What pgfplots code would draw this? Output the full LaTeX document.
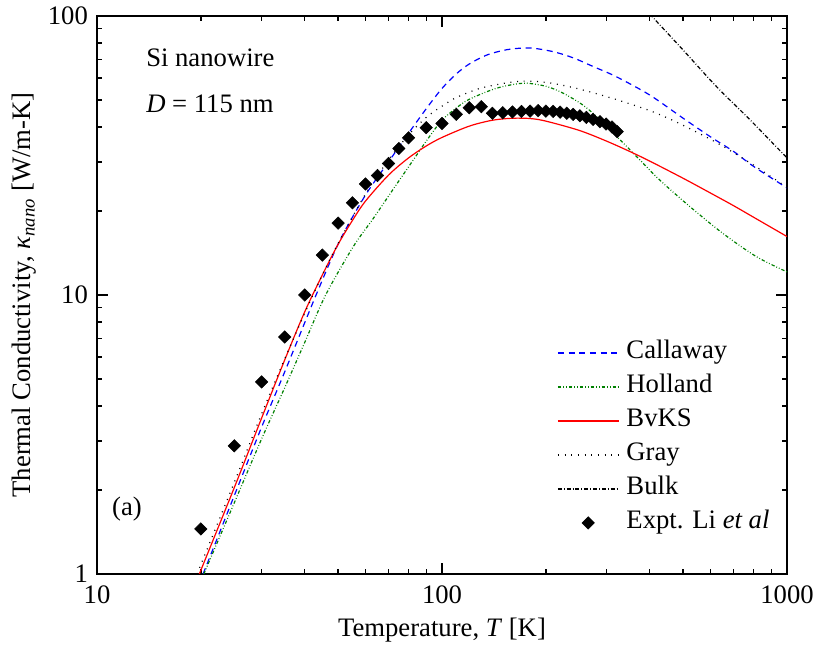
\documentclass[border=0pt]{standalone}
\usepackage{fontspec}
\setmainfont{Liberation Serif}
\usepackage{pgfplots}
\pgfplotsset{compat=1.18}
\pgfplotsset{
  lineleg/.style={legend image code/.code={\draw[##1] (0pt,0pt) -- (45.5pt,0pt);}},
  markleg/.style={legend image code/.code={\path[##1] plot coordinates {(22.75pt,0pt)};}},
}
\definecolor{cblue}{RGB}{0,0,255}
\definecolor{cgreen}{RGB}{0,128,0}
\definecolor{cred}{RGB}{255,0,0}
\begin{document}
\fontsize{20pt}{24pt}\selectfont
\begin{tikzpicture}
\useasboundingbox (-72.75pt,-53.25pt) rectangle (538.5pt,430.5pt);
\begin{axis}[
  at={(0pt,0pt)}, anchor=south west, scale only axis,
  width=517.5pt, height=418.5pt,
  xmode=log, ymode=log,
  xmin=10, xmax=1000, ymin=1, ymax=100,
  xtick={10,100,1000}, xticklabels={10,100,1000},
  ytick={1,10,100}, yticklabels={1,10,100},
  axis line style={line width=1.5pt},
  major tick length=8pt, minor tick length=4pt,
  tick style={line width=1pt, black},
  tick align=inside,
  font=\fontsize{20pt}{24pt}\selectfont,
  xticklabel style={yshift=-2pt},
  xlabel={Temperature, \textit{T} [K]},
  ylabel={Thermal Conductivity, \textit{κ}\textsubscript{\textit{nano}} [W/m-K]},
  xlabel style={at={(axis description cs:0.5,-0.1004)}, anchor=center},
  ylabel style={at={(axis description cs:-0.1058,0.5)}, anchor=center},
  legend style={draw=none, fill=none, inner sep=0pt,
    at={(axis description cs:0.6667,0.417)}, anchor=north west,
    nodes={inner sep=0pt, text height=13pt, text depth=4pt},
    row sep=8.5pt,
    /tikz/every odd column/.append style={column sep=5.5pt}},
  legend cell align=left,
]
% Callaway
\addplot[color=cblue, draw=cblue, line width=0.9pt, dash pattern=on 4.5pt off 3.5pt, smooth, lineleg] coordinates {
(20.3,1.0) (25,1.91) (30,3.36) (35,5.3) (43.3,10.1) (50.6,15.7) (60,22.8)
(70,30.0) (80,38.0) (90,46.5) (100,55.0) (110,62.0) (120,67.3)
(135,72.5) (155,75.8) (180,76.8) (210,74.5)
(240,70.8) (275,65.8) (320,60.6) (400,52.1) (500,43.0)
(600,36.9) (700,32.7) (800,28.9) (1000,24.2)};
\addlegendentry{Callaway}
% Holland
\addplot[color=cgreen, line width=0.9pt, dash pattern=on 2.5pt off 1.5pt on 0.6pt off 1.5pt on 0.6pt off 1.5pt, smooth, lineleg] coordinates {
(20.4,1.0) (25,1.80) (30,3.05) (35,4.65) (40,6.76) (46,10.0) (55.3,14.9) (63.2,18.8)
(72.3,24.0) (82.6,30.5) (91.3,36.5) (100,42.3) (110,46.8) (120,50.3)
(144,55.1) (172,57.4) (200,56.0) (225,52.8) (257,47.8) (290,42.0)
(321,37.0) (367,31.3) (428,25.8) (524,20.7) (653,16.6) (817,13.7) (1000,12.1)};
\addlegendentry{Holland}
% BvKS
\addplot[color=cred, line width=0.9pt, smooth, lineleg] coordinates {
(19.8,1.0) (25,2.04) (30,3.62) (35,5.85) (40,8.7) (45,11.8) (50,15.2) (55,18.5)
(60,21.7) (70,26.9) (80,31.0) (90,34.2) (100,36.7) (120,40.3) (140,42.3)
(160,43.0) (180,42.9) (200,42.0) (250,38.9) (300,35.6) (350,32.7) (400,30.2)
(500,26.2) (600,23.2) (700,20.9) (800,19.0) (1000,16.2)};
\addlegendentry{BvKS}
% Gray
\addplot[black, line width=0.9pt, dash pattern=on 0.75pt off 4.25pt, smooth, lineleg] coordinates {
(19.5,1.0) (25,2.13) (30,3.75) (35,5.9) (40,8.6) (45,11.8) (50,15.3) (60,23.0)
(70,30.5) (80,37.5) (90,43.3) (100,47.5) (110,51.0) (130,55.2) (160,58.0)
(180,58.4) (205,57.6) (240,55.4) (280,52.7) (330,49.6) (400,45.8) (460,42.6)
(520,39.6) (640,34.6) (800,29.2) (1000,24.3)};
\addlegendentry{Gray}
% Bulk
\addplot[black, line width=0.9pt, dash pattern=on 3pt off 1.5pt on 0.6pt off 1.5pt, smooth, lineleg] coordinates {
(370,113) (405,100) (500,75.5) (625,55.8) (782,42.4) (1000,31.0)};
\addlegendentry{Bulk}
% Experiment
\addplot[only marks, mark=square*, mark size=3.3pt, mark options={rotate=45, fill=black, draw=black}, markleg] coordinates {
(20,1.45) (25,2.88) (30,4.88) (35,7.07) (40,10.0) (45,13.9) (50,18.1) (55,21.4)
(60,25.0) (65,26.8) (70,29.6) (75,33.5) (80,36.6) (90,39.8) (100,41.2) (110,44.4)
(120,46.9) (130,47.3) (140,44.8) (150,45.0) (160,45.3) (170,45.5) (180,45.6)
(190,45.8) (200,45.6) (210,45.5) (220,45.2) (230,44.8) (240,44.4) (251,43.9)
(262,43.3) (274,42.6) (287,41.8) (299,41.0) (311,40.0) (322,38.5)};
\addlegendentry{Expt. Li \textit{et al}}
\node[anchor=base west, inner sep=0pt] at (axis description cs:0.071,0.9086) {Si nanowire};
\node[anchor=base west, inner sep=0pt] at (axis description cs:0.071,0.8262) {\textit{D} = 115 nm};
\node[anchor=base west, inner sep=0pt] at (axis description cs:0.0217,0.104) {(a)};
\end{axis}
\end{tikzpicture}
\end{document}
